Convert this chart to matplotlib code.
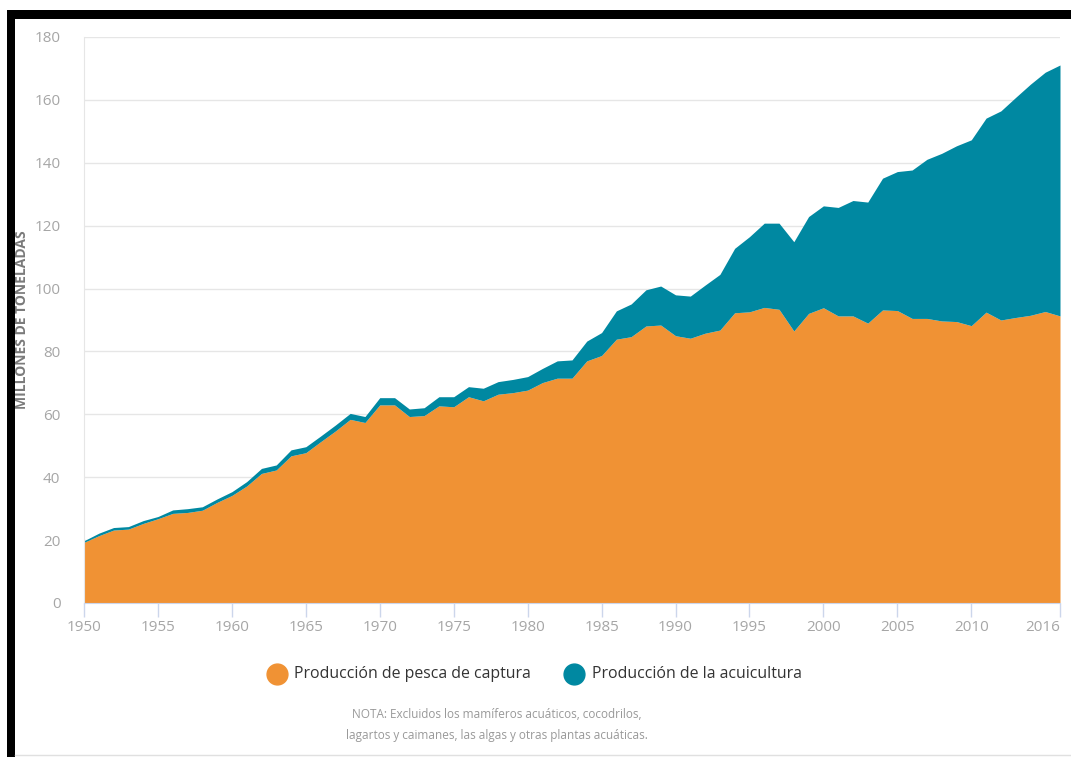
import numpy as np
import matplotlib
matplotlib.use("Agg")
import matplotlib.pyplot as plt
from matplotlib.lines import Line2D
from matplotlib.patches import Rectangle

plt.rcParams['font.family'] = ['Open Sans', 'DejaVu Sans']

# Producción mundial de pesca de captura y acuicultura (millones de toneladas)
years = np.arange(1950, 2017)

capture = [19.3, 21.4, 23.2, 23.5, 25.3, 26.8, 28.5, 28.8, 29.5, 32.0,
           34.2, 37.2, 41.2, 42.3, 46.8, 47.8, 51.3, 54.7, 58.4, 57.4,
           63.0, 63.0, 59.3, 59.6, 62.7, 62.4, 65.6, 64.3, 66.4, 66.9,
           67.7, 70.1, 71.5, 71.5, 77.0, 78.7, 83.9, 84.7, 88.1, 88.4,
           85.0, 84.2, 85.8, 86.8, 92.3, 92.6, 94.0, 93.4, 86.5, 92.1,
           93.9, 91.3, 91.3, 89.0, 93.2, 93.0, 90.5, 90.5, 89.7, 89.5,
           88.2, 92.5, 90.0, 90.8, 91.5, 92.7, 91.3]

# captura + acuicultura
total = [19.8, 22.2, 24.0, 24.3, 26.2, 27.5, 29.6, 30.0, 30.6, 33.1,
         35.4, 38.6, 42.8, 43.9, 48.7, 49.7, 53.1, 56.6, 60.3, 59.3,
         65.3, 65.3, 61.7, 62.1, 65.6, 65.6, 68.8, 68.3, 70.4, 71.1,
         72.0, 74.6, 77.0, 77.3, 83.3, 86.0, 92.9, 95.1, 99.6, 100.8,
         98.0, 97.6, 101.1, 104.5, 112.8, 116.5, 120.8, 120.8, 114.9, 122.9,
         126.3, 125.8, 128.0, 127.5, 135.1, 137.2, 137.7, 141.1, 143.0, 145.4,
         147.3, 154.2, 156.5, 160.8, 165.0, 168.8, 171.1]

xticks = [1950, 1955, 1960, 1965, 1970, 1975, 1980, 1985, 1990, 1995,
          2000, 2005, 2010, 2016]
yticks = [0, 20, 40, 60, 80, 100, 120, 140, 160, 180]

ORANGE = '#f09234'
TEAL = '#0088a1'
TICK_GRAY = '#a6a6a6'

fig = plt.figure(figsize=(10.71, 7.57), dpi=100)
ax = fig.add_axes([84 / 1071, 1 - 603 / 757, 976 / 1071, 566 / 757])

ax.fill_between(years, 0, capture, color=ORANGE, lw=0, zorder=2)
ax.fill_between(years, capture, total, color=TEAL, lw=0, zorder=2)

ax.set_xlim(1950, 2016)
ax.set_ylim(0, 180)
ax.set_xticks(xticks)
ax.set_yticks(yticks)
ax.grid(axis='y', color='#e6e6e6', lw=1, zorder=0)
ax.set_axisbelow(True)

for side in ['top', 'right']:
    ax.spines[side].set_visible(False)
ax.spines['left'].set_color('#e6e6e6')
ax.spines['bottom'].set_color('#ccd6eb')

ax.tick_params(axis='x', colors='#ccd6eb', length=10, width=1, labelcolor=TICK_GRAY,
               labelsize=11, pad=2)
ax.tick_params(axis='y', length=0, labelcolor=TICK_GRAY, labelsize=11, pad=17)
# la última etiqueta (2016) va alineada a la derecha, como en el original
ax.get_xticklabels()[-1].set_horizontalalignment('right')

fig.text(22 / 1071, 1 - 320 / 757, 'MILLONES DE TONELADAS', rotation=90,
         ha='center', va='center', fontsize=10, fontweight='bold', color='#7a7a7a')

# leyenda
ly = 1 - 674 / 757
fig.add_artist(Line2D([277 / 1071], [ly], marker='o', ms=15, color=ORANGE,
                      transform=fig.transFigure))
fig.text(294 / 1071, ly, 'Producción de pesca de captura', ha='left', va='center',
         fontsize=11.4, color='#333333')
fig.add_artist(Line2D([574 / 1071], [ly], marker='o', ms=15, color=TEAL,
                      transform=fig.transFigure))
fig.text(592 / 1071, ly, 'Producción de la acuicultura', ha='left', va='center',
         fontsize=11.4, color='#333333')

fig.text(497 / 1071, 1 - 714 / 757,
         'NOTA: Excluidos los mamíferos acuáticos, cocodrilos,',
         ha='center', va='center', fontsize=8.5, color='#999999')
fig.text(497 / 1071, 1 - 736 / 757,
         'lagartos y caimanes, las algas y otras plantas acuáticas.',
         ha='center', va='center', fontsize=8.5, color='#999999')

# marco negro (arriba e izquierda)
fig.add_artist(Rectangle((7 / 1071, 0), 8 / 1071, 1 - 10 / 757, color='black',
                         transform=fig.transFigure, lw=0))
fig.add_artist(Rectangle((7 / 1071, 1 - 19 / 757), 1 - 7 / 1071, 9 / 757, color='black',
                         transform=fig.transFigure, lw=0))
fig.add_artist(Line2D([15 / 1071, 1], [1 - 755 / 757] * 2, color='#e0e0e0', lw=1,
                      transform=fig.transFigure))

fig.savefig('out.png', dpi=100)
